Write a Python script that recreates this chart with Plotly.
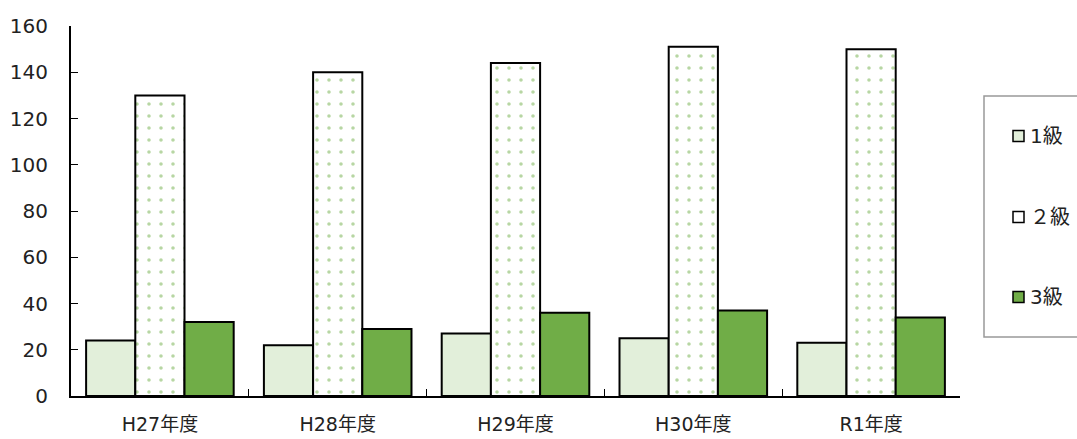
import plotly.graph_objects as go

# Fiscal years and counts per grade
years = ["H27年度", "H28年度", "H29年度", "H30年度", "R1年度"]
grade1 = [24, 22, 27, 25, 23]
grade2 = [130, 140, 144, 151, 150]
grade3 = [32, 29, 36, 37, 34]
y_ticks = [0, 20, 40, 60, 80, 100, 120, 140, 160]
legend_names = ["1級", "２級", "3級"]

FONT = "DejaVu Sans, Noto Sans CJK JP, sans-serif"
LIGHT = "#E2EFDA"
GREEN = "#70AD47"
outline = dict(color="black", width=2)

W, H = 1077, 439
M = dict(l=71, r=117, t=26, b=43)
PW = W - M["l"] - M["r"]
PH = H - M["t"] - M["b"]


def px(x):
    return (x - M["l"]) / PW


def py(y):
    return (H - M["b"] - y) / PH


fig = go.Figure()
fig.add_trace(go.Bar(
    x=years, y=grade1, name=legend_names[0],
    marker=dict(color=LIGHT, line=outline),
))
fig.add_trace(go.Bar(
    x=years, y=grade2, name=legend_names[1],
    marker=dict(
        color="white", line=outline,
        pattern=dict(shape=".", fgcolor=GREEN, bgcolor="white",
                     size=12, solidity=0.07, fillmode="overlay"),
    ),
))
fig.add_trace(go.Bar(
    x=years, y=grade3, name=legend_names[2],
    marker=dict(color=GREEN, line=outline),
))

# Legend drawn as a framed box with swatches on the right side
shapes = [dict(
    type="rect", xref="paper", yref="paper",
    x0=px(984), x1=px(1110), y0=py(337), y1=py(96),
    line=dict(color="#999999", width=1.5), fillcolor="white", layer="below",
)]
annotations = []
swatch_fill = [LIGHT, "white", GREEN]
rows = [136, 217, 297]
for name, fill, yc in zip(legend_names, swatch_fill, rows):
    shapes.append(dict(
        type="rect", xref="paper", yref="paper",
        x0=px(1013), x1=px(1024), y0=py(yc + 5.5), y1=py(yc - 5.5),
        line=dict(color="black", width=1.5), fillcolor=fill,
    ))
    annotations.append(dict(
        text=name, xref="paper", yref="paper",
        x=px(1028), y=py(yc), xanchor="left", yanchor="middle",
        showarrow=False, font=dict(size=20, color="#222222"),
    ))

fig.update_layout(
    width=W, height=H,
    margin=M,
    paper_bgcolor="white", plot_bgcolor="white",
    barmode="group", bargap=0.17, bargroupgap=0,
    font=dict(family=FONT, size=20, color="#222222"),
    showlegend=False,
    shapes=shapes,
    annotations=annotations,
    xaxis=dict(
        showline=True, linecolor="black", linewidth=1.5,
        ticks="inside", tickson="boundaries", ticklen=7, tickcolor="black",
        ticklabelstandoff=10, showgrid=False, automargin=False,
        tickfont=dict(size=19),
    ),
    yaxis=dict(
        range=[0, 160], tickvals=y_ticks,
        showline=True, linecolor="black", linewidth=2,
        ticks="inside", ticklen=7, tickcolor="black",
        ticklabelstandoff=17, showgrid=False, zeroline=False, automargin=False,
        tickfont=dict(size=20),
    ),
)

fig.write_html("out.html")
